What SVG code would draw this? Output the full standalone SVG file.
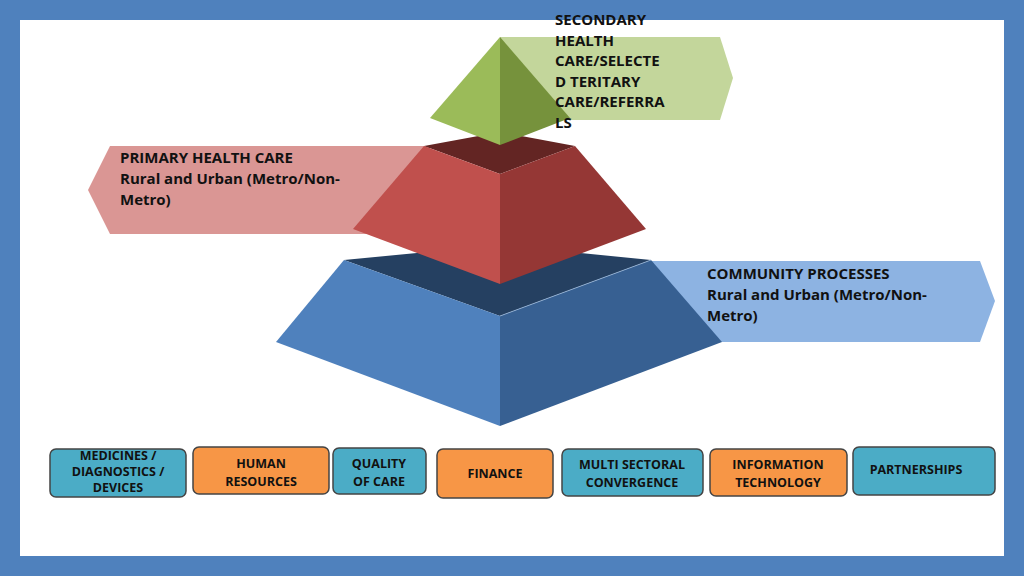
<svg xmlns="http://www.w3.org/2000/svg" width="1024" height="576" viewBox="0 0 1024 576">
<style>
.t{font-family:"Open Sans","Liberation Sans",sans-serif;font-weight:bold;fill:#111}
.big{font-size:15px}
.sm{font-size:12.5px}
.box{stroke:#444;stroke-width:1.5}
.b{fill:#4bacc6}.o{fill:#f79646}
</style>
<rect width="1024" height="576" fill="#4f81bd"/>
<rect x="20" y="20" width="984" height="536" fill="#fff"/>
<g id="banner-secondary">
<polygon points="500,37 720,37 733,78 720,120 500,120" fill="#c3d69b"/>
</g>
<g id="banner-primary">
<polygon points="110,146 430,146 430,234 110,234 88,190" fill="#da9694"/>
</g>
<g id="banner-community">
<polygon points="650,261 980,261 995,301 980,342 650,342" fill="#8db3e2"/>
</g>
<g id="pyramid-blue">
<polygon points="344,260 500,245 651,260 500,316" fill="#254061"/>
<polygon points="344,260 500,316 500,426 276,342" fill="#4f81bd"/>
<polygon points="651,260 500,316 500,426 722,342" fill="#376092"/>
<line x1="500" y1="316" x2="651" y2="260" stroke="#9bb7d9" stroke-width="0.8"/>
</g>
<g id="pyramid-red">
<polygon points="424,146 500,132 575,146 500,174" fill="#632523"/>
<polygon points="424,146 500,174 500,284 353,229" fill="#c0504d"/>
<polygon points="575,146 500,174 500,284 646,229" fill="#953735"/>
</g>
<g id="pyramid-green">
<polygon points="500,37 430,118 500,145" fill="#9bbb59"/>
<polygon points="500,37 570,118 500,145" fill="#76923c"/>
</g>
<text class="t big"><tspan x="555" y="25">SECONDARY</tspan><tspan x="555" y="46">HEALTH</tspan><tspan x="555" y="66">CARE/SELECTE</tspan><tspan x="555" y="87">D TERITARY</tspan><tspan x="555" y="107">CARE/REFERRA</tspan><tspan x="555" y="128">LS</tspan></text>
<text class="t big"><tspan x="120" y="163">PRIMARY HEALTH CARE</tspan><tspan x="120" y="184">Rural and Urban (Metro/Non-</tspan><tspan x="120" y="205">Metro)</tspan></text>
<text class="t big"><tspan x="707" y="279">COMMUNITY PROCESSES</tspan><tspan x="707" y="300">Rural and Urban (Metro/Non-</tspan><tspan x="707" y="321">Metro)</tspan></text>
<g id="box-medicines"><rect class="box b" x="50" y="449" width="136" height="48" rx="6"/><text class="t sm" text-anchor="middle"><tspan x="118" y="460">MEDICINES /</tspan><tspan x="118" y="476">DIAGNOSTICS /</tspan><tspan x="118" y="492">DEVICES</tspan></text></g>
<g id="box-hr"><rect class="box o" x="193" y="447" width="136" height="47" rx="6"/><text class="t sm" text-anchor="middle"><tspan x="261" y="468">HUMAN</tspan><tspan x="261" y="486">RESOURCES</tspan></text></g>
<g id="box-quality"><rect class="box b" x="333" y="448" width="93" height="46" rx="6"/><text class="t sm" text-anchor="middle"><tspan x="379" y="468">QUALITY</tspan><tspan x="379" y="486">OF CARE</tspan></text></g>
<g id="box-finance"><rect class="box o" x="437" y="449" width="116" height="49" rx="6"/><text class="t sm" text-anchor="middle" x="495" y="478">FINANCE</text></g>
<g id="box-multi"><rect class="box b" x="562" y="449" width="141" height="47" rx="6"/><text class="t sm" text-anchor="middle"><tspan x="632" y="469">MULTI SECTORAL</tspan><tspan x="632" y="487">CONVERGENCE</tspan></text></g>
<g id="box-it"><rect class="box o" x="710" y="449" width="137" height="47" rx="6"/><text class="t sm" text-anchor="middle"><tspan x="778" y="469">INFORMATION</tspan><tspan x="778" y="487">TECHNOLOGY</tspan></text></g>
<g id="box-partnerships"><rect class="box b" x="853" y="447" width="142" height="48" rx="6"/><text class="t sm" text-anchor="middle" x="916" y="474">PARTNERSHIPS</text></g>
</svg>
